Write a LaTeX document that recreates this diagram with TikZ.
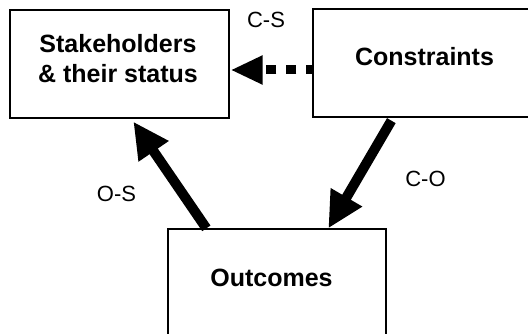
\documentclass[tikz,border=0pt]{standalone}
\usepackage{fontspec}
\setmainfont{Liberation Sans}
\usetikzlibrary{arrows.meta}
\begin{document}
\begin{tikzpicture}[x=1pt,y=-1pt,
 box/.style={draw, line width=1.3pt, fill=white, inner sep=0pt},
 boxtext/.style={font=\fontsize{25}{30}\selectfont\bfseries, align=center, anchor=base, inner sep=0pt},
 lbl/.style={font=\fontsize{22}{26}\selectfont, anchor=base, inner sep=0pt},
 bigarrow/.style={line width=10pt, -{Triangle[length=36pt,width=34pt]}},
 dasharrow/.style={line width=9pt, dash pattern=on 10pt off 10pt, dash phase=4pt, -{Triangle[length=32pt,width=27pt]}}]
\clip (0,0) rectangle (528,334);
\node[box, minimum width=219pt, minimum height=108pt] (S) at (119.5,64) {};
\node[box, minimum width=218pt, minimum height=108pt] (C) at (422,63) {};
\node[box, minimum width=218pt, minimum height=110pt] (O) at (277,284) {};
\node[boxtext] (St) at (118,83) {Stakeholders\\\& their status};
\node[boxtext] (Ct) at (424.5,66) {Constraints};
\node[boxtext] (Ot) at (271.5,286) {Outcomes};
\node[lbl] (lcs) at (266,28) {C-S};
\node[lbl] (los) at (116.5,202) {O-S};
\node[lbl] (lco) at (425.5,187) {C-O};
\draw[bigarrow] ([xshift=39pt]O.north west) -- ([xshift=124pt,yshift=-3pt]S.south west);
\draw[bigarrow] ([xshift=79pt,yshift=-3pt]C.south west) -- ([xshift=161pt]O.north west);
\draw[dasharrow] ([yshift=-7pt]C.west) -- ([xshift=1pt,yshift=-6pt]S.east);
\end{tikzpicture}
\end{document}
